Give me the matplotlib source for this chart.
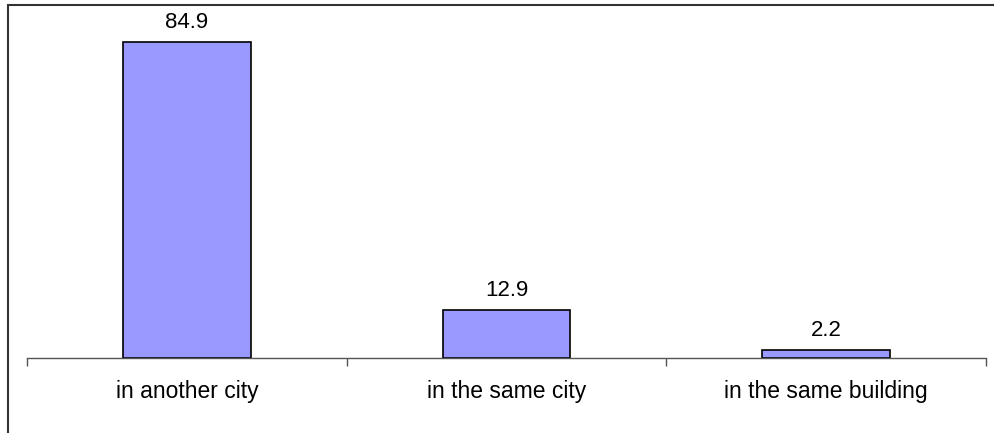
import matplotlib
matplotlib.use("Agg")
import matplotlib.pyplot as plt
from matplotlib.patches import Rectangle

categories = ["in another city", "in the same city", "in the same building"]
values = [84.9, 12.9, 2.2]

W, H = 995, 433
fig = plt.figure(figsize=(W / 100, H / 100), dpi=100)
plt.rcParams['font.family'] = ['Liberation Sans', 'DejaVu Sans']

# axes: x from 27 to 986 px, baseline y=358, top at y=20
ax_l, ax_r, ax_b, ax_t = 27, 986, 358, 20
ax = fig.add_axes([ax_l / W, 1 - ax_b / H, (ax_r - ax_l) / W, (ax_b - ax_t) / H])
px_per_unit = 316 / 84.9
ax.set_ylim(0, (ax_b - ax_t) / px_per_unit)
ax.set_xlim(-0.5, len(categories) - 0.5)

x = range(len(categories))
bars = ax.bar(x, values, width=0.4, color="#9999ff", edgecolor="black", linewidth=1.2, zorder=2)
for xi, v in zip(x, values):
    ax.annotate(f"{v}", (xi, v), xytext=(0, 6.5), textcoords="offset points",
                ha="center", va="bottom", fontsize=16, color="black")

for s in ["top", "right", "left"]:
    ax.spines[s].set_visible(False)
ax.spines["bottom"].set_color("#555555")
ax.spines["bottom"].set_linewidth(1.0)
ax.set_yticks([])
ax.set_xticks([-0.5, 0.5, 1.5, 2.5])
ax.set_xticklabels([])
ax.tick_params(axis="x", length=6, color="#555555", width=1.0)
ax.set_xticks(list(x), minor=True)
ax.set_xticklabels(categories, minor=True, fontsize=16.5)
ax.tick_params(axis="x", which="minor", length=0, pad=16)

# outer chart frame (top and left edges visible)
frame = Rectangle((8 / W, -0.5), 1.5, 1 - 4.5 / H + 0.5, transform=fig.transFigure,
                  fill=False, edgecolor="#333333", linewidth=1.5)
fig.patches.append(frame)

fig.savefig("out.png", dpi=100)
